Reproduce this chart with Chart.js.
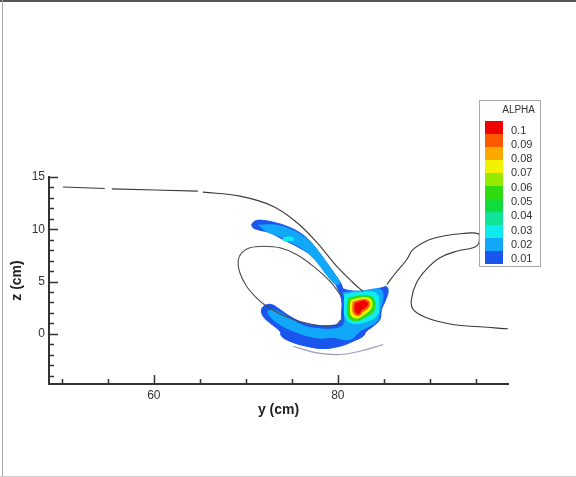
<!DOCTYPE html>
<html>
<head>
<meta charset="utf-8">
<script src="https://cdn.jsdelivr.net/npm/chart.js@4.4.1/dist/chart.umd.min.js"></script>
<style>
  html, body { margin: 0; padding: 0; background: #fff; }
  #wrap { width: 576px; height: 477px; position: relative; }
</style>
</head>
<body>
<div id="wrap"><canvas id="alphaChart"></canvas></div>
<script>
Chart.defaults.font.family = '"Liberation Sans", Arial, sans-serif';

// free surface profile (y cm, z cm); null = gap in the drawn line
var surfaceLine = [
    [50.11, 14.05], [54.67, 13.90], null,
    [55.43, 13.86], [64.78, 13.65], null,
    [65.33, 13.55], [69.35, 13.17], [72.93, 12.21], [75.54, 10.65], [77.72, 8.74],
    [79.89, 6.44], [81.63, 4.91], [82.72, 4.05], null,
    [85.33, 4.72], [86.41, 5.96], [87.5, 7.11], [88.18, 8.07], [90.0, 9.02],
    [91.8, 9.4], [93.6, 9.6], [95.25, 9.6], [95.4, 9.19], [95.25, 8.55],
    [94.7, 8.23], [92.9, 7.9], [91.1, 7.27], [89.6, 6.15], [88.55, 4.88],
    [88.0, 3.28], [88.18, 2.33], [89.64, 1.53], [92.5, 0.89], [95.4, 0.67], [98.5, 0.48]
];

// air pocket under the jet (right side hidden by the contours)
var innerLoop = [
    [80.40, 3.60], [79.13, 5.03], [77.32, 6.47], [75.51, 7.59], [73.70, 8.23],
    [71.88, 8.38], [70.43, 8.23], [69.53, 7.75], [69.16, 6.95], [69.35, 5.84],
    [70.08, 4.55], [71.16, 3.44], [72.25, 2.64], [74.57, 1.56], [77.28, 0.89],
    [79.67, 0.79], [80.30, 1.30]
];

var bottomLine = [[75.14, -1.19], [77.68, -1.82], [80.22, -1.98], [82.39, -1.67], [84.92, -1.02]];

// ALPHA contour bands
var band01 = [
    [70.62, 10.46], [70.98, 10.78], [71.71, 10.87], [72.97, 10.68], [74.42, 10.30],
    [75.87, 9.67], [76.96, 8.86], [77.86, 7.90], [78.77, 6.79], [79.67, 5.67],
    [80.40, 4.72], [80.58, 4.31], [82.03, 4.08], [83.48, 4.17], [84.75, 4.40],
    [85.29, 4.50], [85.47, 4.08], [85.22, 3.28], [84.75, 2.33], [84.57, 1.37],
    [83.84, 0.73], [83.12, 0.25], [82.75, -0.23], [81.66, -0.71], [80.22, -1.19],
    [78.40, -1.41], [76.60, -1.19], [74.78, -0.71], [73.88, -0.23], [73.70, 0.25],
    [72.61, 1.05], [71.88, 1.68], [71.71, 2.33], [72.07, 2.71], [72.79, 2.80],
    [73.70, 2.33], [74.78, 1.68], [76.23, 1.05], [77.68, 0.79], [79.13, 0.79],
    [80.22, 1.05], [80.40, 2.01], [80.40, 3.28], [79.86, 4.56], [79.13, 5.45],
    [78.04, 6.63], [76.96, 7.59], [75.51, 8.38], [74.05, 9.02], [72.61, 9.67],
    [71.52, 9.91], [70.79, 10.14], [70.62, 10.46]
];
var band02Arm = [
    [71.40, 10.40], [73.34, 10.38], [75.14, 9.86], [76.60, 9.07], [77.68, 8.11],
    [78.77, 6.83], [79.67, 5.72], [80.22, 4.84], [79.80, 4.70], [78.90, 5.50],
    [77.80, 6.78], [76.55, 7.90], [75.10, 8.68], [73.66, 9.32], [72.20, 9.82], [71.40, 10.40]
];
var band02Core = [
    [80.58, 3.95], [82.75, 4.11], [84.57, 4.27], [84.92, 3.64], [84.57, 2.20],
    [84.24, 1.18], [83.12, 0.60], [82.39, 0.25], [81.30, -0.55], [79.49, -0.35],
    [77.68, -0.38], [74.78, 0.41], [72.97, 1.37], [72.39, 2.13], [73.15, 2.23],
    [74.78, 1.46], [76.20, 0.79], [77.68, 0.51], [79.46, 0.46], [80.54, 0.79],
    [80.76, 1.85], [80.76, 3.28], [80.58, 3.95]
];
var band03Arm = [[74.13, 9.20], [75.0, 9.25], [75.22, 9.01], [74.57, 8.87], [74.02, 8.96], [74.13, 9.20]];
var band03Core = [
    [80.76, 3.76], [82.61, 4.00], [84.24, 3.81], [84.46, 2.80], [84.24, 1.75],
    [83.15, 1.18], [81.74, 0.99], [80.87, 1.46], [80.71, 2.71], [80.76, 3.76]
];
var band05 = [
    [81.20, 3.43], [83.15, 3.67], [83.91, 3.33], [83.91, 2.23], [82.93, 1.56],
    [81.96, 1.27], [81.20, 1.51], [81.04, 2.52], [81.20, 3.43]
];
var band07 = [
    [81.47, 3.23], [83.04, 3.47], [83.64, 3.19], [83.59, 2.42], [82.83, 1.85],
    [82.17, 1.51], [81.52, 1.70], [81.36, 2.52], [81.47, 3.23]
];
var band09 = [
    [81.68, 3.04], [82.93, 3.28], [83.42, 3.04], [83.32, 2.52], [82.72, 2.13],
    [82.28, 1.75], [81.74, 1.94], [81.63, 2.52], [81.68, 3.04]
];
var band10 = [
    [81.90, 2.90], [82.83, 3.14], [83.21, 2.95], [83.10, 2.61], [82.61, 2.33],
    [82.28, 1.94], [81.90, 2.13], [81.90, 2.90]
];

var alphaLabels = ['0.1', '0.09', '0.08', '0.07', '0.06', '0.05', '0.04', '0.03', '0.02', '0.01'];
var alphaColors = ['#f00000', '#ff5a00', '#ffa800', '#f2f200', '#96ea00', '#30dc10',
                   '#10dc3c', '#10e496', '#10ecec', '#12a8fa', '#1a56ee'];

function toPoints(arr) {
    var out = [], lastX = 0;
    arr.forEach(function (p) {
        if (p) { out.push({ x: p[0], y: p[1] }); lastX = p[0]; }
        else out.push({ x: lastX, y: null });
    });
    return out;
}

function curve(data, color, width) {
    return { data: toPoints(data), borderColor: color, borderWidth: width,
             fill: false, tension: 0.4, pointRadius: 0 };
}

function band(data, color) {
    return { data: toPoints(data), borderColor: color, borderWidth: 1,
             backgroundColor: color, fill: 'shape', tension: 0.4, pointRadius: 0 };
}

var frame = {
    id: 'frame',
    beforeDraw: function (chart) {
        var ctx = chart.ctx;
        ctx.save();
        ctx.fillStyle = '#ffffff';
        ctx.fillRect(0, 0, chart.width, chart.height);
        ctx.fillStyle = '#555555';
        ctx.fillRect(0, 0, chart.width, 2);
        ctx.fillStyle = '#aaaaaa';
        ctx.fillRect(2, 0, 1, chart.height);
        ctx.fillStyle = '#cccccc';
        ctx.fillRect(0, chart.height - 1, chart.width, 1);
        ctx.restore();
    }
};

// tick marks pointing into the plot area
var innerTicks = {
    id: 'innerTicks',
    afterDraw: function (chart) {
        var ctx = chart.ctx, xs = chart.scales.x, ys = chart.scales.y, a = chart.chartArea;
        ctx.save();
        ctx.strokeStyle = '#333333';
        ctx.lineWidth = 1.5;
        ctx.beginPath();
        xs.ticks.forEach(function (t) {
            var px = Math.round(xs.getPixelForValue(t.value)) + 0.5;
            var len = t.value % 20 === 0 ? 9 : 5;
            ctx.moveTo(px, a.bottom);
            ctx.lineTo(px, a.bottom - len);
        });
        ys.ticks.forEach(function (t) {
            var py = Math.round(ys.getPixelForValue(t.value)) + 0.5;
            var len = t.value % 5 === 0 ? 9 : 5;
            ctx.moveTo(a.left, py);
            ctx.lineTo(a.left + len, py);
        });
        ctx.stroke();
        ctx.restore();
    }
};

var alphaLegend = {
    id: 'alphaLegend',
    afterDraw: function (chart) {
        var ctx = chart.ctx;
        ctx.save();
        ctx.fillStyle = '#ffffff';
        ctx.fillRect(479, 100, 61, 166);
        ctx.strokeStyle = '#a8a8a8';
        ctx.lineWidth = 1;
        ctx.strokeRect(479.5, 100.5, 61, 166);
        alphaColors.forEach(function (c, i) {
            ctx.fillStyle = c;
            ctx.fillRect(485, 121 + i * 13, 18, 13);
        });
        ctx.fillStyle = '#333333';
        ctx.textBaseline = 'middle';
        ctx.font = '10px "Liberation Sans", Arial, sans-serif';
        ctx.textAlign = 'right';
        ctx.fillText('ALPHA', 535, 110);
        ctx.textAlign = 'left';
        ctx.font = '11px "Liberation Sans", Arial, sans-serif';
        alphaLabels.forEach(function (l, i) {
            ctx.fillText(l, 511, 130.5 + i * 14.3);
        });
        ctx.restore();
    }
};

new Chart(document.getElementById('alphaChart'), {
    type: 'line',
    data: {
        datasets: [
            curve(surfaceLine, '#3a3a3a', 1.1),
            curve(innerLoop, '#4a4a4a', 1.1),
            curve(bottomLine, '#9c9cbc', 1.2),
            band(band10, alphaColors[0]),
            band(band09, alphaColors[1]),
            band(band07, alphaColors[3]),
            band(band05, alphaColors[5]),
            band(band03Core, alphaColors[8]),
            band(band03Arm, alphaColors[8]),
            band(band02Core, alphaColors[9]),
            band(band02Arm, alphaColors[9]),
            band(band01, alphaColors[10])
        ]
    },
    options: {
        responsive: true,
        maintainAspectRatio: false,
        animation: false,
        events: [],
        layout: { padding: { top: 177, right: 68, bottom: 58.6, left: 9 } },
        plugins: {
            legend:  { display: false },
            tooltip: { enabled: false }
        },
        scales: {
            x: {
                type: 'linear', min: 48.6, max: 98.5,
                border: { display: true, color: '#333333', width: 2 },
                grid: { display: false, drawTicks: false },
                ticks: {
                    stepSize: 5, includeBounds: false, autoSkip: false, maxRotation: 0,
                    padding: 4, color: '#333333', font: { size: 12 },
                    callback: function (v) { return v % 20 === 0 ? v : ''; }
                },
                title: {
                    display: true, text: 'y (cm)', color: '#222222',
                    font: { size: 14, weight: 'bold' }, padding: { top: 0, bottom: 0 }
                },
                afterFit: function (s) { s.height = 34.4; }
            },
            y: {
                type: 'linear', min: -4.8, max: 15,
                border: { display: true, color: '#333333', width: 2 },
                grid: { display: false, drawTicks: false },
                ticks: {
                    stepSize: 1, includeBounds: false, autoSkip: false,
                    padding: 4, color: '#333333', font: { size: 12 },
                    callback: function (v) { return v % 5 === 0 ? v : ''; }
                },
                title: {
                    display: true, text: 'z (cm)', color: '#222222',
                    font: { size: 14, weight: 'bold' }, padding: { top: 0, bottom: 0 }
                },
                afterFit: function (s) { s.width = 40; }
            }
        }
    },
    plugins: [frame, innerTicks, alphaLegend]
});
</script>
</body>
</html>
